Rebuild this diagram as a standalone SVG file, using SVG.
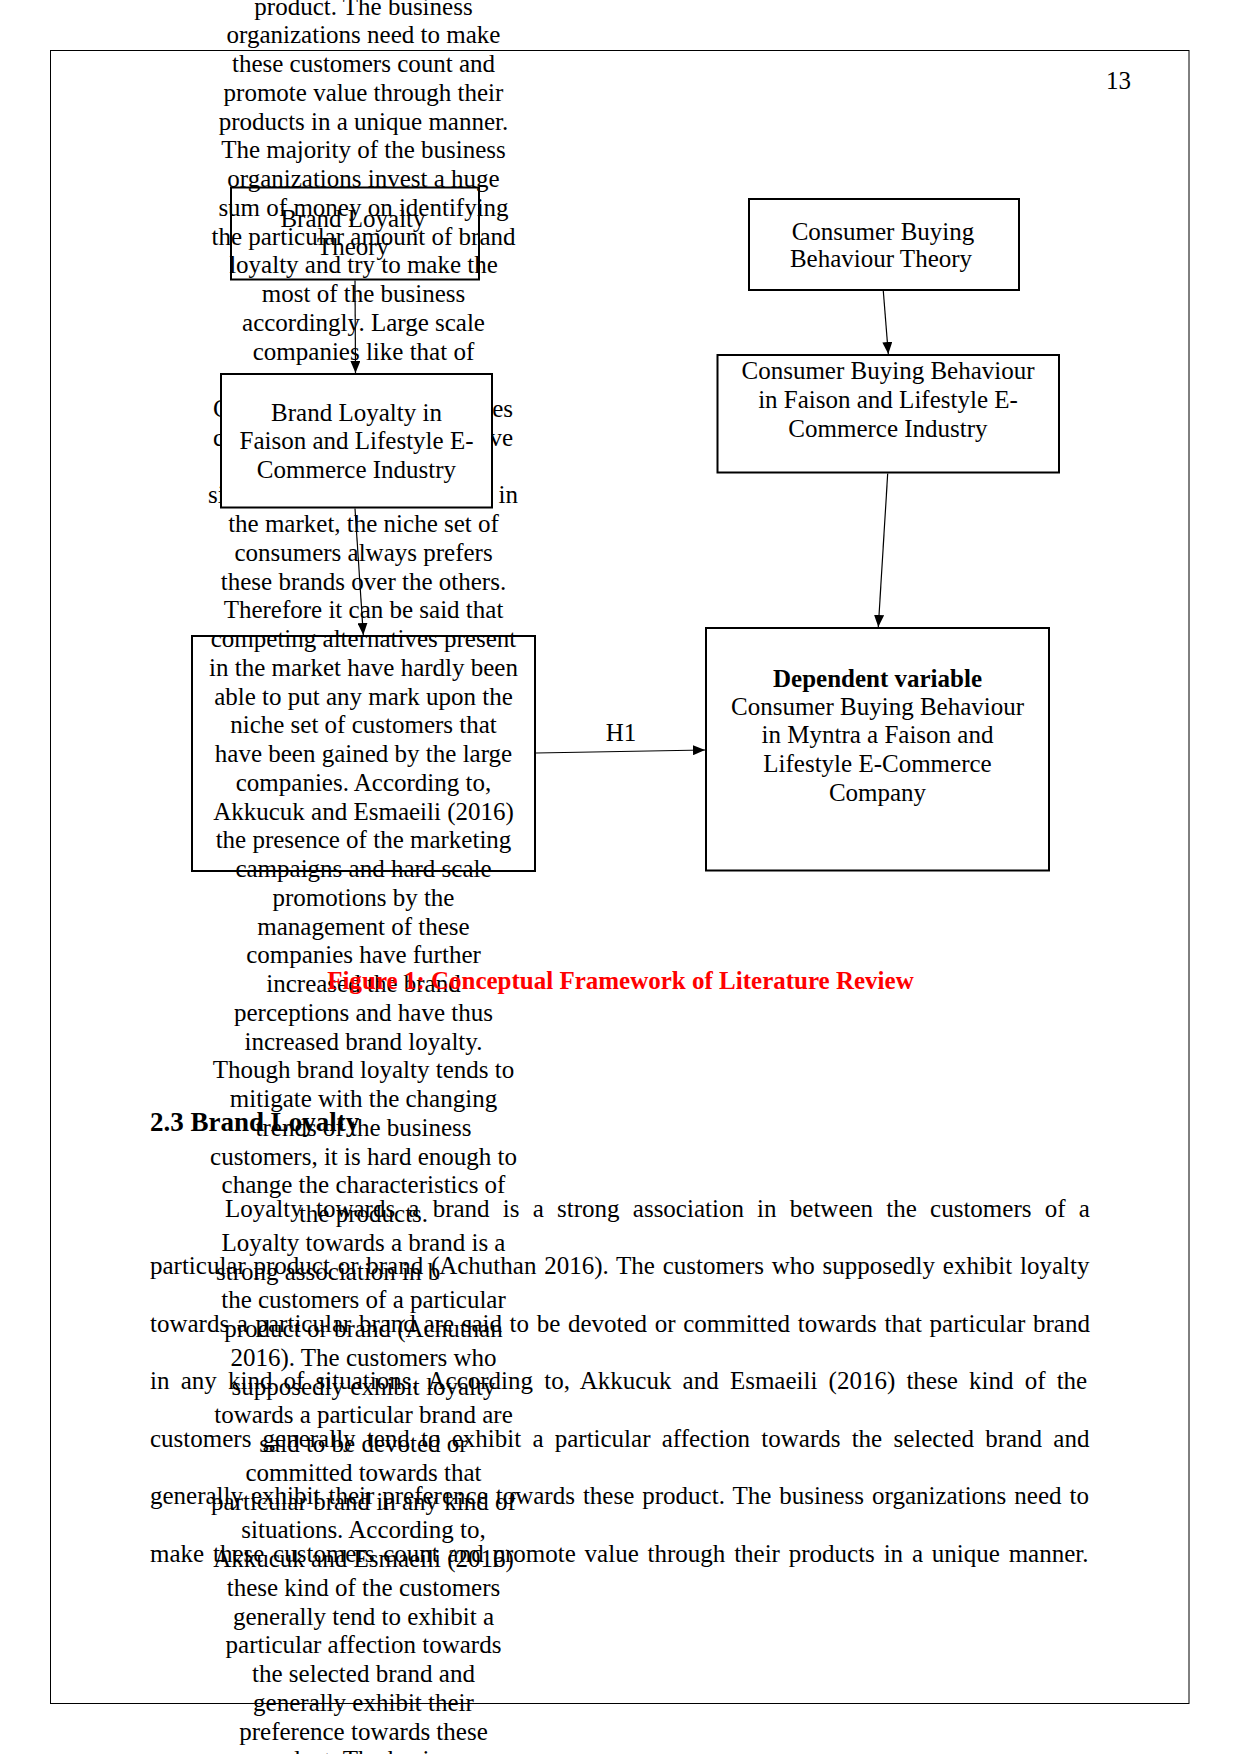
<svg xmlns="http://www.w3.org/2000/svg" width="1241" height="1754" viewBox="0 0 1241 1754">
<style>
.t{font-family:"Liberation Serif","Times New Roman",serif;font-size:25px;fill:#000}
.c{text-anchor:middle}
.e{text-anchor:end}
.b{font-weight:bold}
.red{fill:#ff0000}
.box{stroke:#000;stroke-width:2}
.conn line{stroke:#000;stroke-width:1.2;fill:none}
</style>
<defs>
<marker id="arr" markerUnits="userSpaceOnUse" markerWidth="12" markerHeight="10" viewBox="0 0 12 10" refX="12" refY="5" orient="auto"><path d="M0,0 L12,5 L0,10 z" fill="#000"/></marker>
</defs>
<rect width="1241" height="1754" fill="#fff"/>
<g id="page-border"><rect x="50.5" y="50.5" width="1138.5" height="1653" fill="none" stroke="#000" stroke-width="1"/></g>
<text class="t" x="1106" y="89">13</text>
<g id="column-text" class="t c">
<text x="363.5" y="14.5">product. The business</text>
<text x="363.5" y="43.25">organizations need to make</text>
<text x="363.5" y="72">these customers count and</text>
<text x="363.5" y="100.75">promote value through their</text>
<text x="363.5" y="129.5">products in a unique manner.</text>
<text x="363.5" y="158.25">The majority of the business</text>
<text x="363.5" y="187">organizations invest a huge</text>
<text x="363.5" y="215.75">sum of money on identifying</text>
<text x="363.5" y="244.5">the particular amount of brand</text>
<text x="363.5" y="273.25">loyalty and try to make the</text>
<text x="363.5" y="302">most of the business</text>
<text x="363.5" y="330.75">accordingly. Large scale</text>
<text x="363.5" y="359.5">companies like that of</text>
<text x="213" y="417" style="text-anchor:start">C</text>
<text x="513" y="417" class="e">es</text>
<text x="213" y="445.75" style="text-anchor:start">c</text>
<text x="513" y="445.75" class="e">ve</text>
<text x="208" y="503.25" style="text-anchor:start">si</text>
<text x="518" y="503.25" class="e">in</text>
<text x="363.5" y="532">the market, the niche set of</text>
<text x="363.5" y="560.75">consumers always prefers</text>
<text x="363.5" y="589.5">these brands over the others.</text>
<text x="363.5" y="618.25">Therefore it can be said that</text>
<text x="363.5" y="647">competing alternatives present</text>
<text x="363.5" y="675.75">in the market have hardly been</text>
<text x="363.5" y="704.5">able to put any mark upon the</text>
<text x="363.5" y="733.25">niche set of customers that</text>
<text x="363.5" y="762">have been gained by the large</text>
<text x="363.5" y="790.75">companies. According to,</text>
<text x="363.5" y="819.5">Akkucuk and Esmaeili (2016)</text>
<text x="363.5" y="848.25">the presence of the marketing</text>
<text x="363.5" y="877">campaigns and hard scale</text>
<text x="363.5" y="905.75">promotions by the</text>
<text x="363.5" y="934.5">management of these</text>
<text x="363.5" y="963.25">companies have further</text>
<text x="363.5" y="992">increased the brand</text>
<text x="363.5" y="1020.75">perceptions and have thus</text>
<text x="363.5" y="1049.5">increased brand loyalty.</text>
<text x="363.5" y="1078.25">Though brand loyalty tends to</text>
<text x="363.5" y="1107">mitigate with the changing</text>
<text x="363.5" y="1135.75">trends of the business</text>
<text x="363.5" y="1164.5">customers, it is hard enough to</text>
<text x="363.5" y="1193.25">change the characteristics of</text>
<text x="363.5" y="1222">the products.</text>
<text x="363.5" y="1250.75">Loyalty towards a brand is a</text>
<text x="216" y="1279.5" style="text-anchor:start">strong association in b</text>
<text x="363.5" y="1308.25">the customers of a particular</text>
<text x="363.5" y="1337">product or brand (Achuthan</text>
<text x="363.5" y="1365.75">2016). The customers who</text>
<text x="363.5" y="1394.5">supposedly exhibit loyalty</text>
<text x="363.5" y="1423.25">towards a particular brand are</text>
<text x="363.5" y="1452">said to be devoted or</text>
<text x="363.5" y="1480.75">committed towards that</text>
<text x="363.5" y="1509.5">particular brand in any kind of</text>
<text x="363.5" y="1538.25">situations. According to,</text>
<text x="363.5" y="1567">Akkucuk and Esmaeili (2016)</text>
<text x="363.5" y="1595.75">these kind of the customers</text>
<text x="363.5" y="1624.5">generally tend to exhibit a</text>
<text x="363.5" y="1653.25">particular affection towards</text>
<text x="363.5" y="1682">the selected brand and</text>
<text x="363.5" y="1710.75">generally exhibit their</text>
<text x="363.5" y="1739.5">preference towards these</text>
<text x="363.5" y="1768.25">product. The business</text>
</g>
<g id="paragraph" class="t">
<text x="225" y="1216.5" word-spacing="6.98">Loyalty towards a brand is a strong association in between the customers of a</text>
<text x="150" y="1274" word-spacing="1.5">particular product or brand (Achuthan 2016). The customers who supposedly exhibit loyalty</text>
<text x="150" y="1331.5" word-spacing="1.39">towards a particular brand are said to be devoted or committed towards that particular brand</text>
<text x="150" y="1389" word-spacing="4.95">in any kind of situations. According to, Akkucuk and Esmaeili (2016) these kind of the</text>
<text x="150" y="1446.5" word-spacing="4.97">customers generally tend to exhibit a particular affection towards the selected brand and</text>
<text x="150" y="1504" word-spacing="1.76">generally exhibit their preference towards these product. The business organizations need to</text>
<text x="150" y="1561.5" word-spacing="2.55">make these customers count and promote value through their products in a unique manner.</text>
</g>
<text id="heading" class="t b" x="150" y="1131" style="font-size:27px">2.3 Brand Loyalty</text>
<text id="caption" class="t b c red" x="620.5" y="989">Figure 1: Conceptual Framework of Literature Review</text>
<g id="node-brand-loyalty-theory">
<rect class="box" x="231" y="187.5" width="248" height="92" fill="none"/>
<text class="t c" x="353" y="226.5">Brand Loyalty</text>
<text class="t c" x="353" y="255">Theory</text>
</g>
<g id="node-brand-loyalty-industry">
<rect class="box" x="221" y="374" width="271" height="133.5" fill="#fff"/>
<text class="t c" x="356.5" y="420.5">Brand Loyalty in</text>
<text class="t c" x="356.5" y="449.3">Faison and Lifestyle E-</text>
<text class="t c" x="356.5" y="477.7">Commerce Industry</text>
</g>
<g id="node-independent">
<rect class="box" x="192" y="636" width="343" height="235" fill="none"/>
</g>
<g id="node-cbb-theory">
<rect class="box" x="749" y="199" width="270" height="91" fill="#fff"/>
<text class="t c" x="883" y="240">Consumer Buying</text>
<text class="t c" x="881" y="267.3">Behaviour Theory</text>
</g>
<g id="node-cbb-industry">
<rect class="box" x="717.5" y="355" width="341.5" height="117.5" fill="#fff"/>
<text class="t c" x="888" y="379.3">Consumer Buying Behaviour</text>
<text class="t c" x="888" y="408.3">in Faison and Lifestyle E-</text>
<text class="t c" x="888" y="436.7">Commerce Industry</text>
</g>
<g id="node-dependent">
<rect class="box" x="706" y="628" width="343" height="242.5" fill="#fff"/>
<text class="t c b" x="877.5" y="686.7">Dependent variable</text>
<text class="t c" x="877.5" y="715">Consumer Buying Behaviour</text>
<text class="t c" x="877.5" y="743.3">in Myntra a Faison and</text>
<text class="t c" x="877.5" y="772.3">Lifestyle E-Commerce</text>
<text class="t c" x="877.5" y="801">Company</text>
</g>
<g id="connectors" class="conn">
<line x1="355" y1="280.5" x2="355.5" y2="373" marker-end="url(#arr)"/>
<line x1="355" y1="508.5" x2="363.3" y2="635" marker-end="url(#arr)"/>
<line x1="883.3" y1="291" x2="888.3" y2="354" marker-end="url(#arr)"/>
<line x1="887.7" y1="473.5" x2="878.3" y2="627" marker-end="url(#arr)"/>
<line x1="536" y1="753" x2="705" y2="750" marker-end="url(#arr)"/>
<text class="t c" x="621" y="741" style="stroke:none">H1</text>
</g>
</svg>
